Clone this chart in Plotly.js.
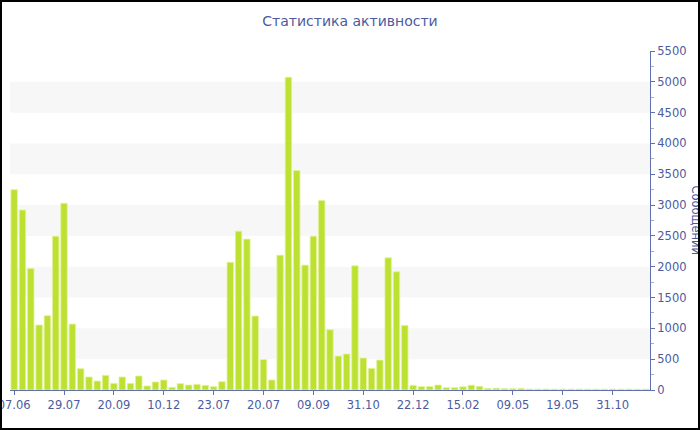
<!DOCTYPE html>
<html>
<head>
<meta charset="utf-8">
<script src="https://cdn.plot.ly/plotly-3.0.1.min.js"></script>
<style>
html,body{margin:0;padding:0;background:#fff;}
#wrap{width:696px;height:426px;border:2px solid #000;overflow:hidden;}
#chart{width:696px;height:426px;}
</style>
</head>
<body>
<div id="wrap"><div id="chart"></div></div>
<script>
var tickLabels = ["07.06","29.07","20.09","10.12","23.07","20.07","09.09","31.10","22.12","15.02","09.05","19.05","31.10"];
var messages = [
  3250,2920,1970,1055,1205,2495,3030,1070,346,211,
  146,238,108,211,108,227,65,130,162,43,
  103,81,92,76,54,135,2072,2577,2448,1200,
  492,162,2188,5075,3561,2026,2496,3075,978,551,
  584,2015,519,351,486,2145,1918,1048,76,54,
  56,81,38,38,52,78,59,27,30,22,
  22,27,16,15,16,14,15,14,15,13,
  14,13,15,13,14,13,15
];
var xIdx = messages.map(function(_, i){ return i; });
var tickIdx = tickLabels.map(function(_, i){ return i * 6; });

var bandStarts = [500,1500,2500,3500,4500];
var shapes = bandStarts.map(function(s){
  return {type:'rect', xref:'paper', yref:'y', x0:0, x1:1, y0:s, y1:s+500,
          fillcolor:'#f7f7f7', line:{width:0}, layer:'below'};
});

var txt = '#4c5b9e';
var axc = '#6070b0';
var data = [{
  type:'bar', x:xIdx, y:messages,
  marker:{color:'#bde133', line:{color:'#e4f29a', width:0.8}},
  hoverinfo:'y'
}];
var layout = {
  width:696, height:426,
  margin:{l:8, r:48, t:49, b:38},
  paper_bgcolor:'#fff', plot_bgcolor:'rgba(0,0,0,0)',
  font:{family:'DejaVu Sans, Verdana, sans-serif', size:11.5, color:txt},
  title:{text:'Статистика активности', x:0.5, xanchor:'center', y:0.955, yanchor:'middle',
         font:{family:'DejaVu Sans, sans-serif', size:14, color:txt}},
  bargap:0.22,
  showlegend:false,
  shapes:shapes,
  xaxis:{
    range:[-0.5, messages.length-0.5],
    tickmode:'array', tickvals:tickIdx, ticktext:tickLabels,
    ticklabeloverflow:'allow',
    showline:true, linecolor:axc, linewidth:1,
    ticks:'outside', ticklen:4, tickcolor:axc,
    showgrid:false, zeroline:false, fixedrange:true,
    tickfont:{size:11.5, color:txt}
  },
  yaxis:{
    side:'right', range:[0,5500], dtick:500, tick0:0,
    showline:true, linecolor:axc, linewidth:1,
    ticks:'outside', ticklen:4, tickcolor:axc,
    minor:{dtick:250, ticks:'outside', ticklen:3, tickcolor:'#aab0cc', showgrid:false},
    showgrid:false, zeroline:false, fixedrange:true,
    tickfont:{size:11.5, color:txt}
  },
  annotations:[{
    text:'Сообщений', xref:'paper', yref:'paper', x:1.072, y:0.5,
    xanchor:'center', yanchor:'middle', textangle:90, showarrow:false,
    font:{family:'DejaVu Sans, sans-serif', size:11.5, color:txt}
  }]
};
Plotly.newPlot('chart', data, layout, {displayModeBar:false, staticPlot:true});
</script>
</body>
</html>
